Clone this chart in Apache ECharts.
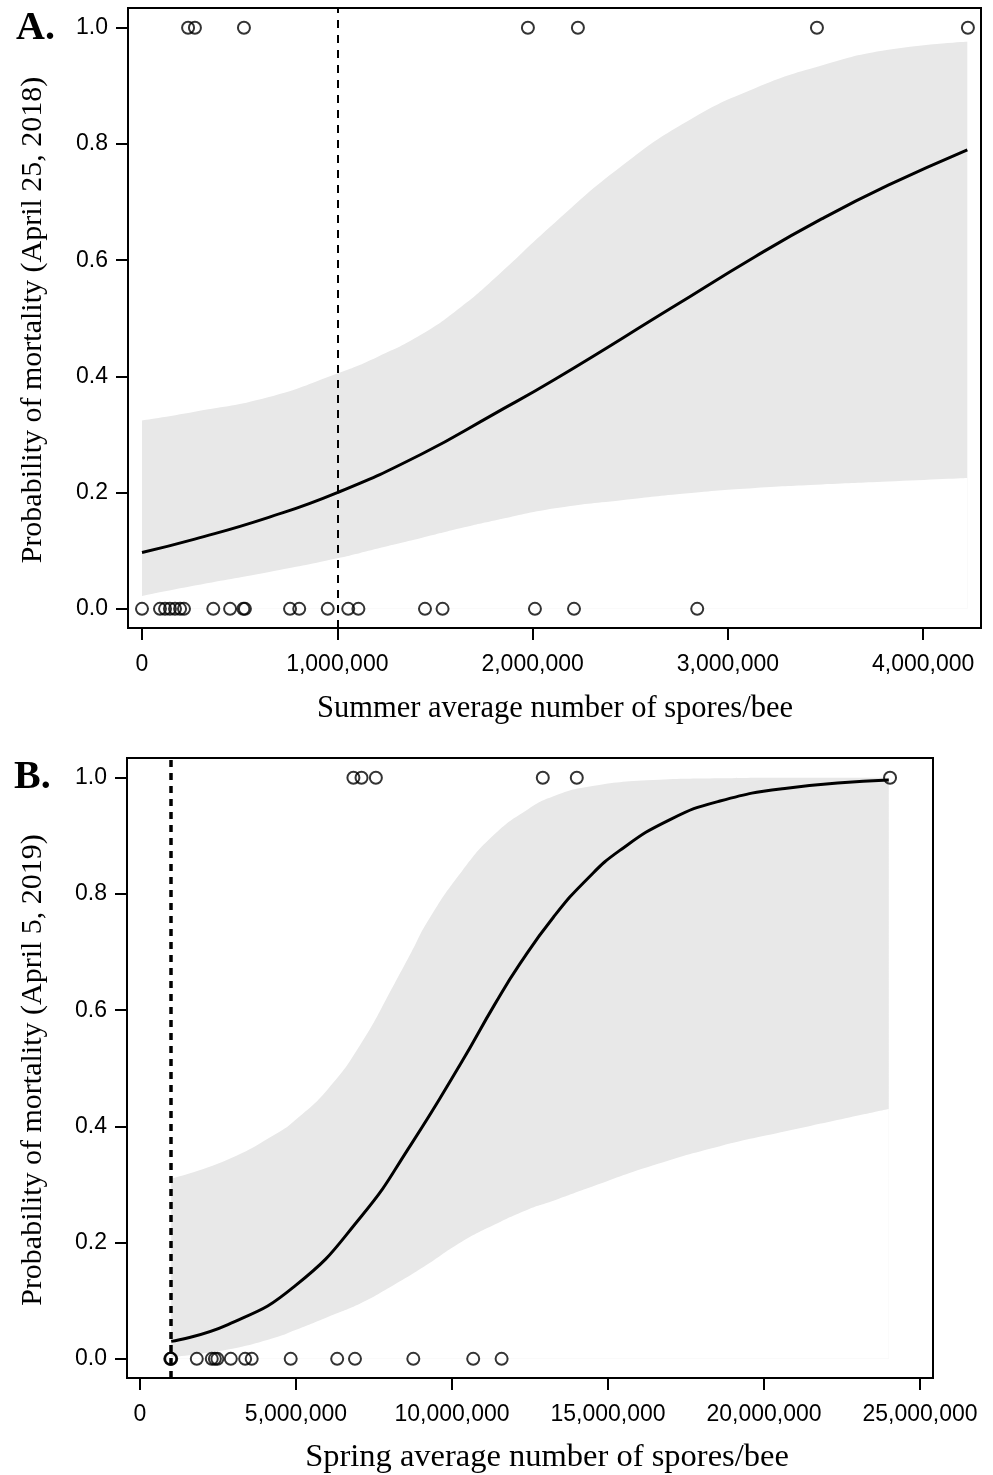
<!DOCTYPE html>
<html lang="en">

<head>
    <meta charset="UTF-8">
    <title>Probability of mortality vs spores/bee</title>
    <script src="https://cdn.jsdelivr.net/npm/echarts@6.0.0/dist/echarts.min.js"></script>
    <style>
        body { margin: 0; background: #fff; }
    </style>
</head>

<body>
    <div id="chart" style="width: 993px; height: 1475px;"></div>
    <script>
        // ---- panel A: summer counts (2018) ----
        const summerAlive = [0, 92000, 118000, 143000, 169000, 195000, 215000, 365000, 451000, 519000, 527000,
            758000, 805000, 951000, 1056000, 1108000, 1449000, 1539000, 2012000, 2212000, 2843000];
        const summerDead = [236000, 271000, 522000, 1976000, 2232000, 3456000, 4229000];
        // fitted curve
        const summerFitX = [0, 270000, 645000, 1000000, 1430000, 1806000, 2115000, 2712000, 3139000, 3480000, 3821000, 4226000];
        const summerFitP = [0.097, 0.12, 0.157, 0.200, 0.266, 0.336, 0.395, 0.518, 0.606, 0.671, 0.729, 0.790];
        // confidence band
        const summerBandX = [0, 270000, 645000, 1000000, 1208000, 1430000, 1635000, 1806000, 2115000, 2456000, 2797000,
            3139000, 3480000, 3821000, 4226000];
        const summerLower = [0.022, 0.040, 0.063, 0.087, 0.104, 0.122, 0.139, 0.152, 0.173, 0.187, 0.199,
            0.208, 0.214, 0.219, 0.225];
        const summerUpper = [0.324, 0.339, 0.364, 0.405, 0.434, 0.472, 0.520, 0.569, 0.665, 0.762, 0.840,
            0.896, 0.935, 0.962, 0.976];

        // ---- panel B: spring counts (2019) ----
        const springAlive = [970000, 985000, 1000000, 1820000, 2300000, 2400000, 2480000, 2910000, 3370000, 3580000,
            4830000, 6320000, 6890000, 8760000, 10680000, 11590000];
        const springDead = [6840000, 7100000, 7560000, 12910000, 14000000, 24040000];
        const springFitX = [1000000, 2820000, 4960000, 7090000, 8700000, 10300000, 11370000, 12180000, 13250000,
            14320000, 15380000, 16990000, 18590000, 20730000, 24000000];
        const springFitP = [0.030, 0.059, 0.125, 0.245, 0.370, 0.510, 0.610, 0.680, 0.760, 0.825, 0.875, 0.928, 0.960, 0.982, 0.996];
        const springBandX = [1000000, 2820000, 4420000, 4960000, 6020000, 7090000, 8160000, 8700000, 9230000, 10300000,
            11370000, 12440000, 13250000, 14320000, 16450000, 18590000, 20730000, 24000000];
        const springLower = [0.003, 0.016, 0.038, 0.049, 0.072, 0.096, 0.128, 0.145, 0.163, 0.201,
            0.231, 0.257, 0.272, 0.293, 0.333, 0.366, 0.392, 0.430];
        const springUpper = [0.310, 0.343, 0.389, 0.410, 0.464, 0.543, 0.646, 0.700, 0.754, 0.838,
            0.903, 0.946, 0.968, 0.984, 0.996, 0.999, 1.0, 1.0];

        // ticks
        const probTicks = [0, 0.2, 0.4, 0.6, 0.8, 1.0];
        const summerTicks = [0, 1000000, 2000000, 3000000, 4000000];
        const springTicks = [0, 5000000, 10000000, 15000000, 20000000, 25000000];
        const threshold = 1000000;

        const sans = 'Liberation Sans, Arial, sans-serif';
        const serif = 'Liberation Serif, Times New Roman, serif';
        const chart = echarts.init(document.getElementById('chart'));

        function xAxisFor(idx, min, max, ticks) {
            return {
                type: 'value', gridIndex: idx, min: min, max: max,
                axisLine: { show: true, onZero: false, lineStyle: { color: '#000', width: 2 } },
                axisTick: { show: true, customValues: ticks, length: 12, lineStyle: { color: '#000', width: 2 } },
                axisLabel: {
                    customValues: ticks, margin: 25, fontFamily: sans, fontSize: 23, color: '#000',
                    formatter: (v) => Number(v).toLocaleString('en-US')
                },
                splitLine: { show: false }
            };
        }

        function yAxisFor(idx) {
            return {
                type: 'value', gridIndex: idx, min: -0.033, max: 1.034,
                axisLine: { show: true, onZero: false, lineStyle: { color: '#000', width: 2 } },
                axisTick: { show: true, customValues: probTicks, length: 12, lineStyle: { color: '#000', width: 2 } },
                axisLabel: {
                    customValues: probTicks, margin: 20, fontFamily: sans, fontSize: 23, color: '#000',
                    formatter: (v) => Number(v).toFixed(1)
                },
                splitLine: { show: false }
            };
        }

        const smoothness = 0.5;

        // band: grey area under the upper limit, white area under the lower limit on top of it
        function bandSeries(idx, xs, lower, upper) {
            const common = {
                type: 'line', xAxisIndex: idx, yAxisIndex: idx,
                symbol: 'none', silent: true, smooth: smoothness,
                lineStyle: { opacity: 0 }
            };
            return [
                Object.assign({}, common, {
                    z: 1, data: xs.map((x, i) => [x, upper[i]]),
                    areaStyle: { color: '#e8e8e8', opacity: 1 }
                }),
                Object.assign({}, common, {
                    z: 2, data: xs.map((x, i) => [x, lower[i]]),
                    areaStyle: { color: '#fff', opacity: 1 }
                })
            ];
        }

        function fitSeries(idx, xs, ps, dash, dashWidth) {
            return {
                type: 'line', xAxisIndex: idx, yAxisIndex: idx, z: 3,
                data: xs.map((x, i) => [x, ps[i]]),
                symbol: 'none', silent: true, smooth: smoothness,
                lineStyle: { color: '#000', width: 3 },
                markLine: {
                    silent: true, symbol: 'none', label: { show: false },
                    lineStyle: { color: '#000', type: dash, width: dashWidth },
                    data: [{ xAxis: threshold }]
                }
            };
        }

        function pointSeries(idx, xs, p) {
            return {
                type: 'scatter', xAxisIndex: idx, yAxisIndex: idx, z: 4,
                data: xs.map((x) => [x, p]),
                symbol: 'circle', symbolSize: 12, silent: true,
                itemStyle: { color: 'transparent', borderColor: '#000', borderWidth: 2 }
            };
        }

        function label(text, x, y, size, rotate) {
            return {
                type: 'text', x: x, y: y, rotation: rotate ? Math.PI / 2 : 0, silent: true,
                style: { text: text, fill: '#000', font: size + 'px ' + serif, align: 'center', verticalAlign: 'middle' }
            };
        }

        const option = {
            animation: false,
            title: [
                { text: 'A.', left: 16, top: 9, padding: 0, textStyle: { fontFamily: serif, fontWeight: 'bold', fontSize: 40, color: '#000' } },
                { text: 'B.', left: 14, top: 758, padding: 0, textStyle: { fontFamily: serif, fontWeight: 'bold', fontSize: 40, color: '#000' } }
            ],
            graphic: [
                label('Summer average number of spores/bee', 555, 709, 30.5),
                label('Spring average number of spores/bee', 547, 1457, 32.5),
                label('Probability of mortality (April 25, 2018)', 33, 320, 30, true),
                label('Probability of mortality (April 5, 2019)', 33, 1070, 30, true)
            ],
            grid: [
                { left: 128, top: 8, width: 853, height: 620, show: true, borderColor: '#000', borderWidth: 2, backgroundColor: 'transparent' },
                { left: 127, top: 758, width: 806, height: 620, show: true, borderColor: '#000', borderWidth: 2, backgroundColor: 'transparent' }
            ],
            xAxis: [
                xAxisFor(0, -71700, 4296000, summerTicks),
                xAxisFor(1, -417000, 25417000, springTicks)
            ],
            yAxis: [yAxisFor(0), yAxisFor(1)],
            series: [
                ...bandSeries(0, summerBandX, summerLower, summerUpper),
                fitSeries(0, summerFitX, summerFitP, [8, 7], 2),
                pointSeries(0, summerAlive, 0),
                pointSeries(0, summerDead, 1),
                ...bandSeries(1, springBandX, springLower, springUpper),
                fitSeries(1, springFitX, springFitP, [7, 6], 3.5),
                pointSeries(1, springAlive, 0),
                pointSeries(1, springDead, 1)
            ]
        };
        chart.setOption(option);
    </script>
</body>

</html>
